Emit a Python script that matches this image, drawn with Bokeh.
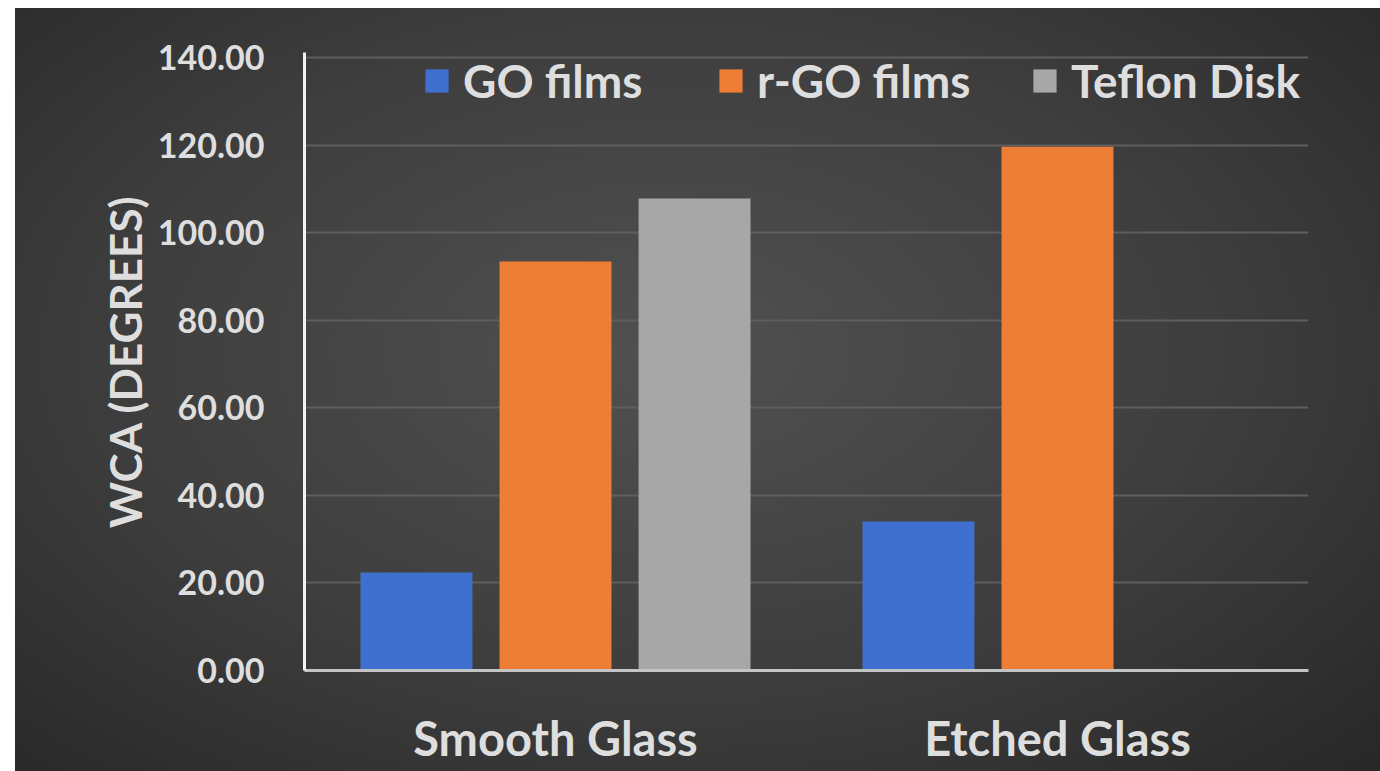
from bokeh.plotting import figure
from bokeh.models import ColumnDataSource, FactorRange, Legend, LegendItem, FixedTicker, CustomJSTickFormatter
from bokeh.transform import dodge
from bokeh.embed import file_html
from bokeh.resources import INLINE

categories = ["Smooth Glass", "Etched Glass"]
series_names = ["GO films", "r-GO films", "Teflon Disk"]
go_films = [22.4, 34.0]
rgo_films = [93.4, 119.6]
teflon_disk = [107.8, float("nan")]
y_ticks = [0, 20, 40, 60, 80, 100, 120, 140]

colors = ["#4070cf", "#ee7e35", "#a7a7a7"]
FONT = "Lato"
TXT = "#dedede"

src = ColumnDataSource(dict(cat=categories, go=go_films, rgo=rgo_films, tef=teflon_disk))

p = figure(width=1365, height=763, x_range=FactorRange(*categories, range_padding=0),
           y_range=(0, 141.13), output_backend="svg", toolbar_location=None,
           min_border_left=289, min_border_top=44, min_border_right=72, min_border_bottom=101)
p.margin = (8, 0, 0, 15)
p.background_fill_color = None
p.border_fill_color = None
p.outline_line_color = None
p.styles = {"background-image": "radial-gradient(ellipse 75% 80% at 48% 45%, #515151 0%, #3d3d3d 55%, #262626 100%)"}

w = 0.223
r1 = p.vbar(x=dodge("cat", -0.277, range=p.x_range), top="go", width=w, source=src,
            fill_color=colors[0], line_color=None)
r2 = p.vbar(x=dodge("cat", 0.0, range=p.x_range), top="rgo", width=w, source=src,
            fill_color=colors[1], line_color=None)
r3 = p.vbar(x=dodge("cat", 0.277, range=p.x_range), top="tef", width=w, source=src,
            fill_color=colors[2], line_color=None)

p.xgrid.grid_line_color = None
p.ygrid.grid_line_color = "#5e5e5e"
p.ygrid.grid_line_width = 2
p.yaxis.ticker = FixedTicker(ticks=y_ticks)
p.yaxis.formatter = CustomJSTickFormatter(code="return tick.toFixed(2);")

for ax in (p.xaxis, p.yaxis):
    ax.major_tick_line_color = None
    ax.minor_tick_line_color = None
    ax.major_label_text_font = FONT
    ax.major_label_text_font_style = "bold"
    ax.major_label_text_color = TXT
    ax.axis_label_text_font = FONT
    ax.axis_label_text_font_style = "bold"
    ax.axis_label_text_color = TXT

p.yaxis.axis_line_color = "#f2f2f2"
p.yaxis.axis_line_width = 3
p.yaxis.major_label_text_font_size = "34px"
p.yaxis.major_label_standoff = 34
p.yaxis.axis_label = "WCA (DEGREES)"
p.yaxis.axis_label_text_font_size = "44px"
p.yaxis.axis_label_standoff = 4

p.xaxis.axis_line_color = "#c4c4c4"
p.xaxis.axis_line_width = 3
p.xaxis.major_label_text_font_size = "47px"
p.xaxis.major_label_standoff = 33

renderers = [r1, r2, r3]
x_offsets = [118, 412, 726]
for name, r, xo in zip(series_names, renderers, x_offsets):
    lg = Legend(items=[LegendItem(label=name, renderers=[r])],
                orientation="horizontal", location=(xo, 562),
                background_fill_alpha=0, border_line_color=None,
                glyph_width=29, glyph_height=29, label_standoff=12,
                padding=0, margin=0,
                label_text_font=FONT, label_text_font_style="bold",
                label_text_font_size="46px", label_text_color=TXT)
    p.add_layout(lg, "center")

open("out.html", "w").write(file_html(p, INLINE))
